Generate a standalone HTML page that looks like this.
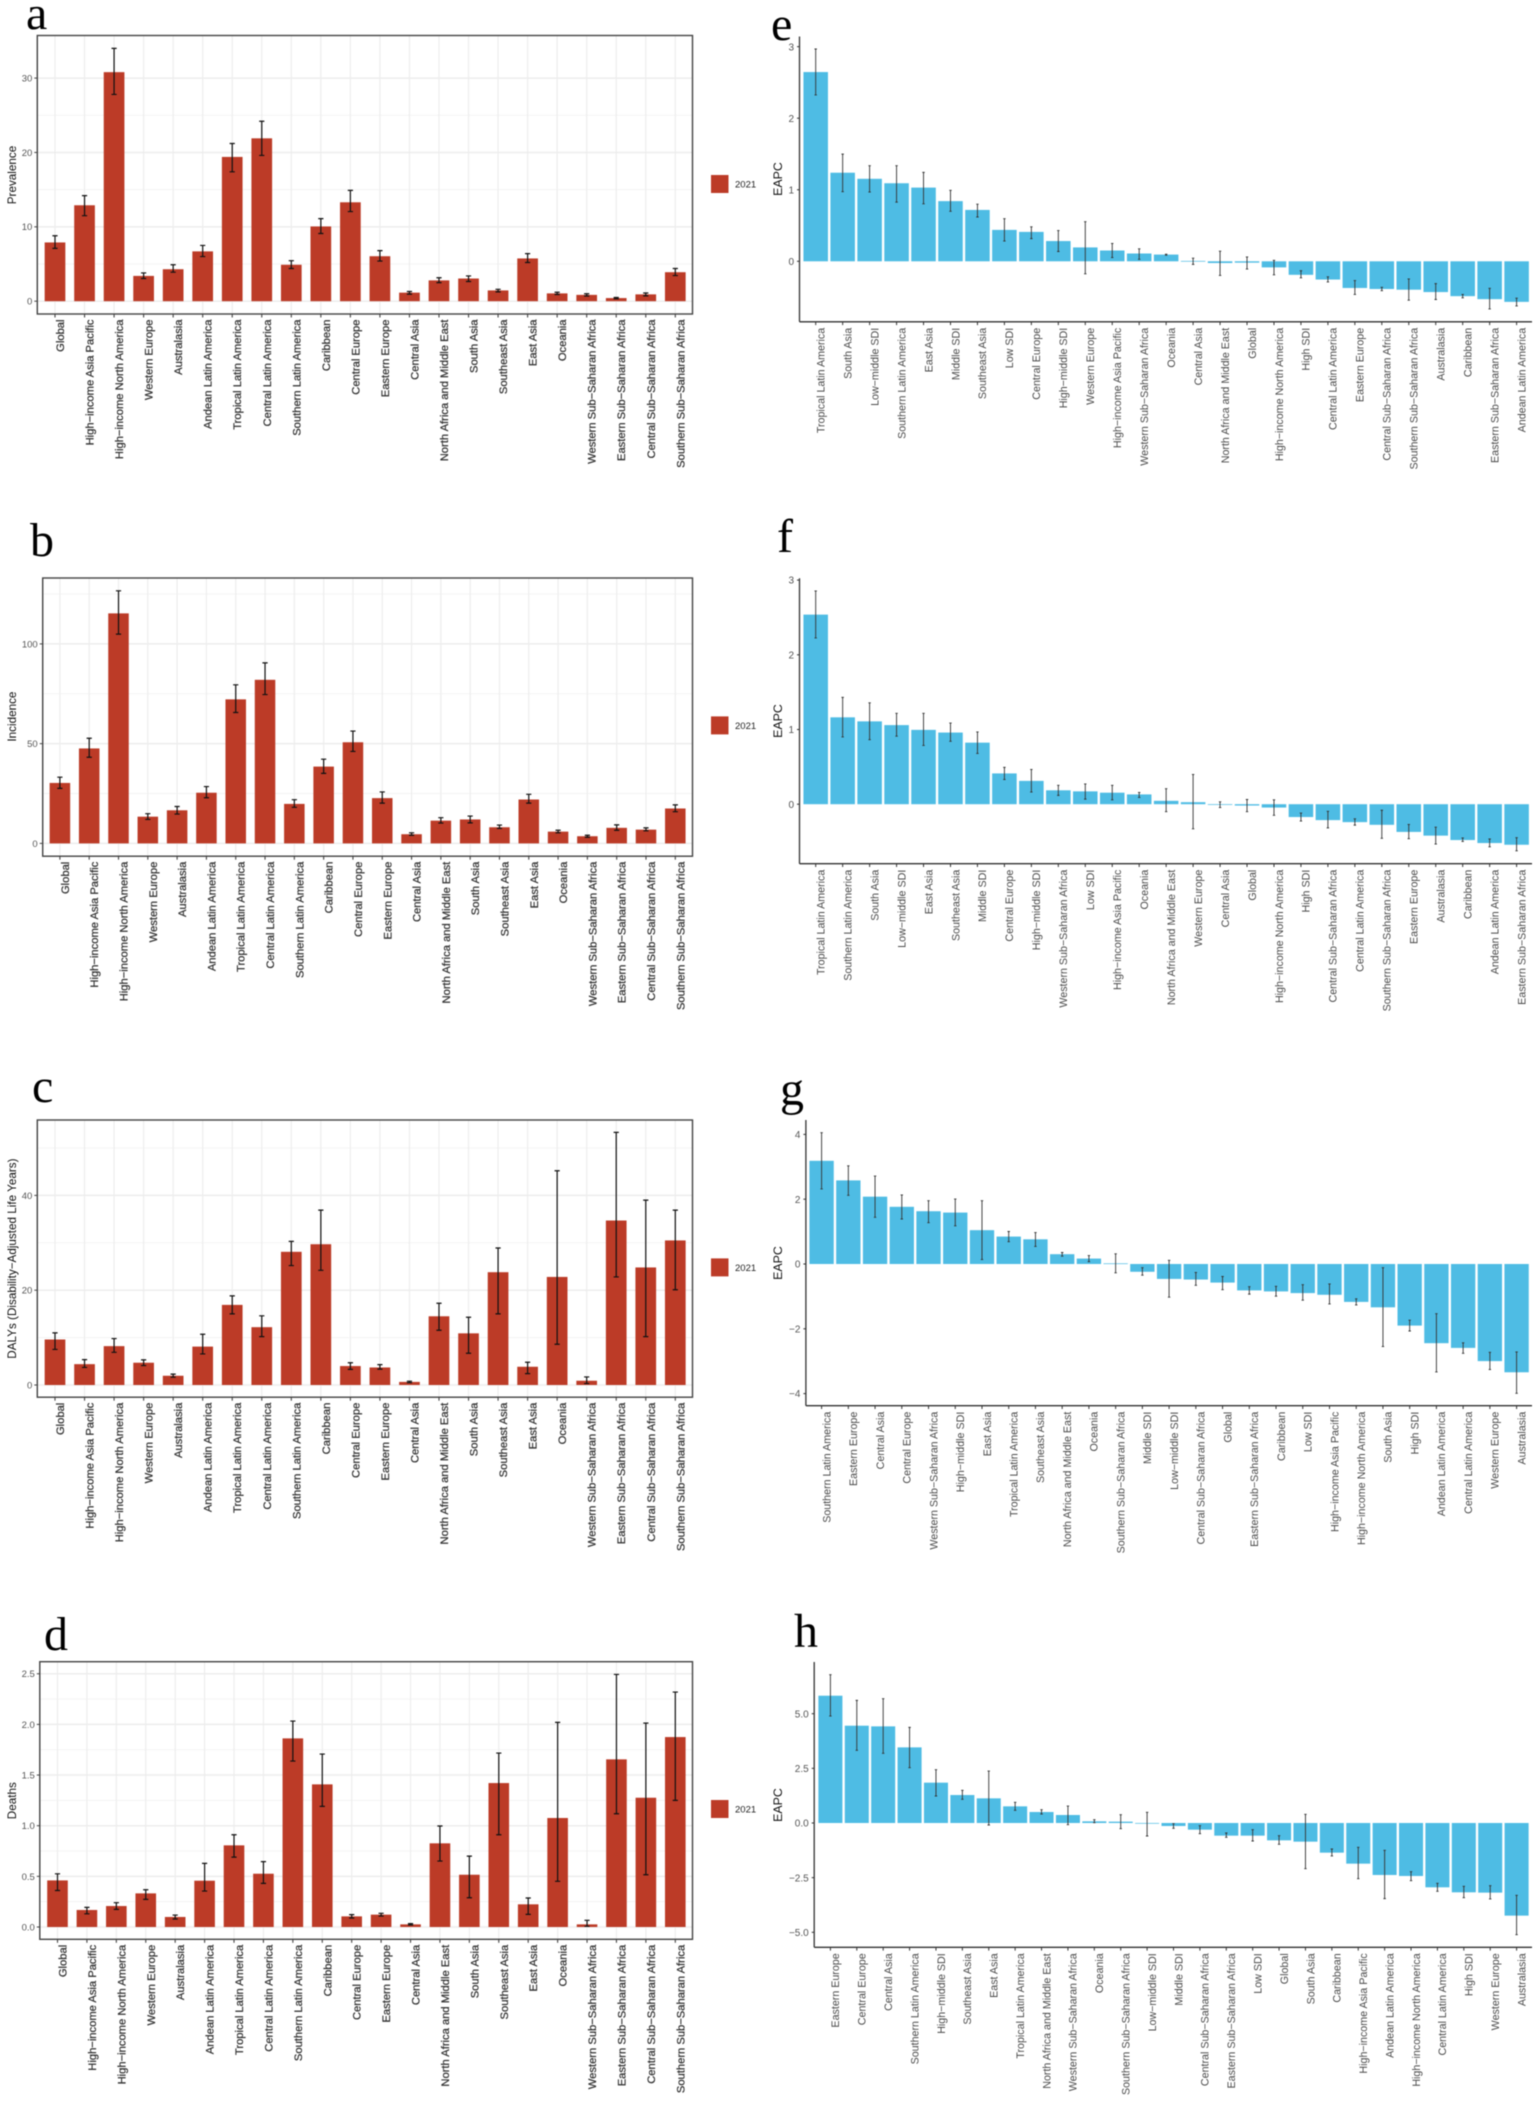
<!DOCTYPE html>
<html lang="en">
<head>
<meta charset="utf-8">
<title>Regional burden and EAPC bar charts</title>
<style>
html,body{margin:0;padding:0;background:#fff;}
#figure{display:block;filter:blur(0.45px);}
text{font-family:"Liberation Sans",Arial,sans-serif;}
.letter{font-family:"Liberation Serif","Times New Roman",serif;font-size:48px;fill:#000;}
</style>
</head>
<body>
<svg id="figure" xmlns="http://www.w3.org/2000/svg" width="1535" height="2101" viewBox="0 0 1535 2101"></svg>
<script>
const regionCategories = ["Global","High−income Asia Pacific","High−income North America","Western Europe","Australasia","Andean Latin America","Tropical Latin America","Central Latin America","Southern Latin America","Caribbean","Central Europe","Eastern Europe","Central Asia","North Africa and Middle East","South Asia","Southeast Asia","East Asia","Oceania","Western Sub−Saharan Africa","Eastern Sub−Saharan Africa","Central Sub−Saharan Africa","Southern Sub−Saharan Africa"];

const prevalenceValues = [7.9,12.9,30.8,3.4,4.3,6.7,19.4,21.9,4.9,10.05,13.3,6.05,1.15,2.8,3.05,1.45,5.75,1.05,0.85,0.42,0.92,3.9];
const prevalenceLower = [7.1,11.5,27.8,3.05,3.9,6.0,17.4,19.6,4.4,9.1,12.05,5.4,0.95,2.5,2.65,1.25,5.2,0.9,0.7,0.32,0.72,3.45];
const prevalenceUpper = [8.8,14.2,34,3.8,4.9,7.5,21.2,24.2,5.45,11.1,14.9,6.8,1.3,3.15,3.4,1.6,6.4,1.2,1,0.5,1.1,4.4];
const prevalenceTicks = [0,10,20,30];
const prevalenceMinorTicks = [5,15,25];

const incidenceValues = [30.3,47.6,115.3,13.4,16.6,25.4,72.2,82,19.8,38.5,50.7,22.7,4.6,11.4,12,8.1,22,5.9,3.6,7.8,6.9,17.5];
const incidenceLower = [27.6,43.2,104.9,12,14.7,22.9,65.6,74.6,18.1,35.1,46.1,20.2,4.1,10.2,10.3,7.5,20.2,5.3,3.1,6.6,6.3,15.9];
const incidenceUpper = [33.2,52.7,126.6,14.9,18.5,28.5,79.5,90.5,21.9,42.2,56.3,25.8,5.3,12.9,13.7,9.2,24.6,6.6,4.1,9.3,7.8,19.3];
const incidenceTicks = [0,50,100];
const incidenceMinorTicks = [25,75,125];

const dalysValues = [9.6,4.4,8.2,4.7,1.95,8.1,16.9,12.2,28.1,29.7,4,3.7,0.65,14.5,10.9,23.8,3.85,22.8,0.9,34.7,24.8,30.5];
const dalysLower = [7.5,3.7,6.9,4.1,1.65,6.55,15,10.2,25.2,24.2,3.3,3.35,0.5,11.55,6.7,15,2.4,8.6,0.3,22.8,10.2,20.1];
const dalysUpper = [11,5.35,9.8,5.3,2.3,10.7,18.8,14.6,30.3,36.9,4.7,4.3,0.8,17.25,14.3,28.9,4.8,45.2,1.7,53.3,39,36.9];
const dalysTicks = [0,20,40];
const dalysMinorTicks = [10,30,50];

const deathsValues = [0.46,0.168,0.207,0.332,0.099,0.457,0.806,0.526,1.862,1.408,0.105,0.122,0.026,0.826,0.516,1.421,0.224,1.076,0.026,1.655,1.276,1.875];
const deathsLower = [0.36,0.13,0.174,0.273,0.079,0.355,0.69,0.431,1.638,1.191,0.089,0.108,0.02,0.651,0.289,0.911,0.125,0.451,0.007,1.118,0.516,1.25];
const deathsUpper = [0.525,0.194,0.24,0.368,0.118,0.628,0.911,0.645,2.033,1.707,0.122,0.135,0.033,0.997,0.7,1.717,0.286,2.02,0.066,2.493,2.013,2.319];
const deathsTicks = [0,0.5,1,1.5,2,2.5];
const deathsTickLabels = ["0.0","0.5","1.0","1.5","2.0","2.5"];
const deathsMinorTicks = [0.25,0.75,1.25,1.75,2.25];

const eapcECategories = ["Tropical Latin America","South Asia","Low−middle SDI","Southern Latin America","East Asia","Middle SDI","Southeast Asia","Low SDI","Central Europe","High−middle SDI","Western Europe","High−income Asia Pacific","Western Sub−Saharan Africa","Oceania","Central Asia","North Africa and Middle East","Global","High−income North America","High SDI","Central Latin America","Eastern Europe","Central Sub−Saharan Africa","Southern Sub−Saharan Africa","Australasia","Caribbean","Eastern Sub−Saharan Africa","Andean Latin America"];
const eapcEValues = [2.645,1.238,1.153,1.091,1.03,0.841,0.718,0.439,0.411,0.283,0.194,0.151,0.109,0.094,0.005,-0.024,-0.019,-0.085,-0.189,-0.255,-0.373,-0.387,-0.397,-0.43,-0.487,-0.529,-0.567];
const eapcELower = [2.325,0.973,0.968,0.827,0.803,0.699,0.619,0.283,0.317,0.137,-0.175,0.052,0.028,0.085,-0.043,-0.198,-0.109,-0.189,-0.231,-0.288,-0.463,-0.411,-0.543,-0.534,-0.51,-0.666,-0.624];
const eapcEUpper = [2.967,1.498,1.337,1.337,1.243,0.992,0.798,0.595,0.482,0.43,0.553,0.25,0.175,0.099,0.043,0.142,0.061,0.014,-0.132,-0.217,-0.269,-0.364,-0.246,-0.312,-0.463,-0.378,-0.515];
const eapcETicks = [0,1,2,3];

const eapcFCategories = ["Tropical Latin America","Southern Latin America","South Asia","Low−middle SDI","East Asia","Southeast Asia","Middle SDI","Central Europe","High−middle SDI","Western Sub−Saharan Africa","Low SDI","High−income Asia Pacific","Oceania","North Africa and Middle East","Western Europe","Central Asia","Global","High−income North America","High SDI","Central Sub−Saharan Africa","Central Latin America","Southern Sub−Saharan Africa","Eastern Europe","Australasia","Caribbean","Andean Latin America","Eastern Sub−Saharan Africa"];
const eapcFValues = [2.538,1.163,1.109,1.059,0.995,0.959,0.824,0.412,0.312,0.186,0.172,0.154,0.131,0.045,0.027,-0.005,-0.018,-0.045,-0.172,-0.213,-0.24,-0.276,-0.371,-0.421,-0.48,-0.52,-0.543];
const eapcFLower = [2.226,0.9,0.864,0.91,0.787,0.842,0.679,0.33,0.163,0.118,0.068,0.059,0.09,-0.1,-0.33,-0.045,-0.1,-0.149,-0.226,-0.317,-0.28,-0.457,-0.462,-0.534,-0.498,-0.57,-0.624];
const eapcFUpper = [2.855,1.43,1.357,1.217,1.217,1.086,0.968,0.493,0.466,0.253,0.271,0.253,0.158,0.208,0.398,0.032,0.063,0.059,-0.118,-0.095,-0.195,-0.081,-0.271,-0.308,-0.452,-0.466,-0.448];
const eapcFTicks = [0,1,2,3];

const eapcGCategories = ["Southern Latin America","Eastern Europe","Central Asia","Central Europe","Western Sub−Saharan Africa","High−middle SDI","East Asia","Tropical Latin America","Southeast Asia","North Africa and Middle East","Oceania","Southern Sub−Saharan Africa","Middle SDI","Low−middle SDI","Central Sub−Saharan Africa","Global","Eastern Sub−Saharan Africa","Caribbean","Low SDI","High−income Asia Pacific","High−income North America","South Asia","High SDI","Andean Latin America","Central Latin America","Western Europe","Australasia"];
const eapcGValues = [3.185,2.58,2.078,1.765,1.629,1.587,1.044,0.846,0.762,0.303,0.167,0.02,-0.24,-0.46,-0.48,-0.574,-0.815,-0.846,-0.898,-0.95,-1.17,-1.337,-1.901,-2.444,-2.59,-2.997,-3.342];
const eapcGLower = [2.318,2.12,1.441,1.389,1.274,1.18,0.136,0.689,0.543,0.24,0.073,-0.272,-0.345,-1.023,-0.658,-0.794,-0.93,-0.992,-1.117,-1.232,-1.264,-2.548,-2.068,-3.332,-2.757,-3.258,-3.99];
const eapcGUpper = [4.052,3.029,2.715,2.131,1.953,2.005,1.953,1.003,0.971,0.355,0.261,0.313,-0.115,0.115,-0.261,-0.386,-0.7,-0.689,-0.637,-0.616,-1.076,-0.115,-1.734,-1.535,-2.433,-2.726,-2.715];
const eapcGTicks = [-4,-2,0,2,4];

const eapcHCategories = ["Eastern Europe","Central Europe","Central Asia","Southern Latin America","High−middle SDI","Southeast Asia","East Asia","Tropical Latin America","North Africa and Middle East","Western Sub−Saharan Africa","Oceania","Southern Sub−Saharan Africa","Low−middle SDI","Middle SDI","Central Sub−Saharan Africa","Eastern Sub−Saharan Africa","Low SDI","Global","South Asia","Caribbean","High−income Asia Pacific","Andean Latin America","High−income North America","Central Latin America","High SDI","Western Europe","Australasia"];
const eapcHValues = [5.823,4.451,4.421,3.46,1.845,1.28,1.128,0.762,0.503,0.366,0.076,0.061,-0.03,-0.137,-0.305,-0.579,-0.579,-0.793,-0.854,-1.357,-1.86,-2.378,-2.424,-2.942,-3.171,-3.186,-4.238];
const eapcHLower = [4.893,3.323,3.186,2.53,1.235,1.082,-0.091,0.579,0.412,-0.076,0.015,-0.259,-0.595,-0.244,-0.488,-0.655,-0.823,-0.976,-2.088,-1.509,-2.546,-3.46,-2.637,-3.125,-3.415,-3.476,-5.107];
const eapcHUpper = [6.784,5.61,5.686,4.375,2.439,1.494,2.378,0.945,0.61,0.777,0.152,0.381,0.488,-0.03,-0.122,-0.457,-0.305,-0.579,0.396,-1.189,-1.113,-1.25,-2.226,-2.759,-2.896,-2.866,-3.308];
const eapcHTicks = [-5,-2.5,0,2.5,5];
const eapcHTickLabels = ["−5.0","−2.5","0.0","2.5","5.0"];

const NS = "http://www.w3.org/2000/svg";
const svg = document.getElementById("figure");
function add(parent, tag, attrs, content) {
  const el = document.createElementNS(NS, tag);
  for (const k in attrs) el.setAttribute(k, attrs[k]);
  if (content !== undefined) el.textContent = content;
  parent.appendChild(el);
  return el;
}

function drawLeftPanel(cfg) {
  const g = add(svg, "g", {});
  
  
  const n = cfg.categories.length;
  const step = (cfg.lastX - cfg.firstX) / (n - 1);
  const xScale = i => cfg.firstX + i * step;
  const yScale = v => cfg.zeroY - v * cfg.pxPerUnit;

  cfg.minor.forEach(t => {
    const l = add(g, "line", {x1: cfg.left, x2: cfg.right, y1: yScale(t), y2: yScale(t), stroke: "#f4f4f4", "stroke-width": 1});
    
    
  });
  cfg.ticks.forEach(t => {
    const l = add(g, "line", {x1: cfg.left, x2: cfg.right, y1: yScale(t), y2: yScale(t), stroke: "#ededed", "stroke-width": 1.5});
    
    
  });
  cfg.categories.forEach((c, i) => {
    const l = add(g, "line", {x1: xScale(i), x2: xScale(i), y1: cfg.top, y2: cfg.bottom, stroke: "#ededed", "stroke-width": 1.2});
    
    
  });

  const bw = step * 0.7;
  cfg.values.forEach((v, i) => {
    const y0 = yScale(0), yv = yScale(v);
    const bar = add(g, "rect", {x: xScale(i) - bw / 2, y: Math.min(y0, yv), width: bw, height: Math.abs(y0 - yv), fill: "#BC3B27"});
    
    
  });
  cfg.values.forEach((v, i) => {
    const x = xScale(i), lo = yScale(cfg.lower[i]), hi = yScale(cfg.upper[i]);
    const e = add(g, "path", {d: `M${x},${lo}V${hi}M${x - 2.6},${lo}H${x + 2.6}M${x - 2.6},${hi}H${x + 2.6}`, stroke: "#111", "stroke-width": 1.2, fill: "none"});
    
    
  });

  const frame = add(g, "rect", {x: cfg.left, y: cfg.top, width: cfg.right - cfg.left, height: cfg.bottom - cfg.top, fill: "none", stroke: "#444", "stroke-width": 1.4});
  
  

  cfg.ticks.forEach((t, i) => {
    const mark = add(g, "line", {x1: cfg.left - 3, x2: cfg.left, y1: yScale(t), y2: yScale(t), stroke: "#444", "stroke-width": 1});
    
    
    const lab = add(g, "text", {x: cfg.left - 5, y: yScale(t) + 3.4, "text-anchor": "end", "font-size": 9.5, fill: "#555"}, cfg.tickLabels ? cfg.tickLabels[i] : String(t));
    
    
  });
  cfg.categories.forEach((c, i) => {
    const mark = add(g, "line", {x1: xScale(i), x2: xScale(i), y1: cfg.bottom, y2: cfg.bottom + 3.5, stroke: "#444", "stroke-width": 1.1});
    
    
    const tx = xScale(i) + 9, ty = cfg.bottom + 5.5;
    const lab = add(g, "text", {transform: `translate(${tx},${ty}) rotate(-90)`, "text-anchor": "end", "font-size": 11.2, fill: "#333", stroke: "#333", "stroke-width": 0.25}, c);
    
    
  });

  const title = add(g, "text", {transform: `translate(16,${cfg.titleY}) rotate(-90)`, "text-anchor": "middle", "font-size": 11.7, fill: "#111"}, cfg.title);
  
  

  const swatch = add(g, "rect", {x: 711, y: cfg.legendY - 9, width: 17.5, height: 18, fill: "#BC3B27"});
  
  
  const legendLabel = add(g, "text", {x: 735, y: cfg.legendY + 3.5, "font-size": 9.5, fill: "#222"}, "2021");
  
  

  const letter = add(g, "text", {x: cfg.letterX, y: cfg.letterY, class: "letter"}, cfg.key);
  
  
}

function drawRightPanel(cfg) {
  const g = add(svg, "g", {});
  
  
  const n = cfg.categories.length;
  const step = (cfg.lastX - cfg.firstX) / (n - 1);
  const xScale = i => cfg.firstX + i * step;
  const yScale = v => cfg.zeroY - v * cfg.pxPerUnit;
  const bw = step * 0.91;

  cfg.values.forEach((v, i) => {
    const y0 = yScale(0), yv = yScale(v);
    const h = Math.max(Math.abs(y0 - yv), 0.7);
    const bar = add(g, "rect", {x: xScale(i) - bw / 2, y: Math.min(y0, yv), width: bw, height: h, fill: "#4EBCE4"});
    
    
  });
  cfg.values.forEach((v, i) => {
    const x = xScale(i), lo = yScale(cfg.lower[i]), hi = yScale(cfg.upper[i]);
    const e = add(g, "path", {d: `M${x},${lo}V${hi}M${x - 1.2},${lo}H${x + 1.2}M${x - 1.2},${hi}H${x + 1.2}`, stroke: "#333", "stroke-width": 0.9, fill: "none"});
    
    
  });

  const yAxis = add(g, "line", {x1: cfg.left, x2: cfg.left, y1: cfg.top, y2: cfg.bottom, stroke: "#333", "stroke-width": 1.3});
  
  
  const xAxis = add(g, "line", {x1: cfg.left, x2: cfg.right, y1: cfg.bottom, y2: cfg.bottom, stroke: "#333", "stroke-width": 1.3});
  
  

  cfg.ticks.forEach((t, i) => {
    const mark = add(g, "line", {x1: cfg.left - 2.5, x2: cfg.left, y1: yScale(t), y2: yScale(t), stroke: "#333", "stroke-width": 1});
    
    
    const label = cfg.tickLabels ? cfg.tickLabels[i] : String(t).replace("-", "−");
    const lab = add(g, "text", {x: cfg.left - 5.5, y: yScale(t) + 3.6, "text-anchor": "end", "font-size": 10, fill: "#555"}, label);
    
    
  });
  cfg.categories.forEach((c, i) => {
    const mark = add(g, "line", {x1: xScale(i), x2: xScale(i), y1: cfg.bottom, y2: cfg.bottom + 3.3, stroke: "#333", "stroke-width": 1});
    
    
    const tx = xScale(i) + 8.8, ty = cfg.bottom + 6;
    const lab = add(g, "text", {transform: `translate(${tx},${ty}) rotate(-90)`, "text-anchor": "end", "font-size": 10.7, fill: "#4a4a4a"}, c);
    
    
  });

  const title = add(g, "text", {transform: `translate(782,${cfg.titleY}) rotate(-90)`, "text-anchor": "middle", "font-size": 12.4, fill: "#111"}, "EAPC");
  
  

  const letter = add(g, "text", {x: cfg.letterX, y: cfg.letterY, class: "letter"}, cfg.key);
  
  
}

drawLeftPanel({key: "a", title: "Prevalence", categories: regionCategories, values: prevalenceValues, lower: prevalenceLower, upper: prevalenceUpper, ticks: prevalenceTicks, minor: prevalenceMinorTicks, left: 37.3, right: 692.5, top: 35.5, bottom: 314, firstX: 55, lastX: 675.3, zeroY: 301.2, pxPerUnit: 7.437, titleY: 175, legendY: 184, letterX: 26, letterY: 29});
drawLeftPanel({key: "b", title: "Incidence", categories: regionCategories, values: incidenceValues, lower: incidenceLower, upper: incidenceUpper, ticks: incidenceTicks, minor: incidenceMinorTicks, left: 42.7, right: 692.5, top: 578, bottom: 856.2, firstX: 59.9, lastX: 675.3, zeroY: 843.4, pxPerUnit: 1.995, titleY: 716.6, legendY: 725.4, letterX: 30, letterY: 556});
drawLeftPanel({key: "c", title: "DALYs (Disability−Adjusted Life Years)", categories: regionCategories, values: dalysValues, lower: dalysLower, upper: dalysUpper, ticks: dalysTicks, minor: dalysMinorTicks, left: 37.3, right: 692.5, top: 1120, bottom: 1397.2, firstX: 55, lastX: 675.3, zeroY: 1385, pxPerUnit: 4.74, titleY: 1258.6, legendY: 1267.4, letterX: 32, letterY: 1102});
drawLeftPanel({key: "d", title: "Deaths", categories: regionCategories, values: deathsValues, lower: deathsLower, upper: deathsUpper, ticks: deathsTicks, tickLabels: deathsTickLabels, minor: deathsMinorTicks, left: 39.8, right: 692.5, top: 1661.7, bottom: 1939.3, firstX: 57.5, lastX: 675.3, zeroY: 1927, pxPerUnit: 101.3, titleY: 1800.7, legendY: 1809, letterX: 44, letterY: 1650});

drawRightPanel({key: "e", categories: eapcECategories, values: eapcEValues, lower: eapcELower, upper: eapcEUpper, ticks: eapcETicks, left: 799.5, right: 1532, top: 36.5, bottom: 321.8, firstX: 815.7, lastX: 1516.6, zeroY: 261.3, pxPerUnit: 71.55, titleY: 179, letterX: 771, letterY: 40});
drawRightPanel({key: "f", categories: eapcFCategories, values: eapcFValues, lower: eapcFLower, upper: eapcFUpper, ticks: eapcFTicks, left: 799.5, right: 1532, top: 578.3, bottom: 863.7, firstX: 815.7, lastX: 1516.6, zeroY: 804.2, pxPerUnit: 74.7, titleY: 721, letterX: 777, letterY: 552});
drawRightPanel({key: "g", categories: eapcGCategories, values: eapcGValues, lower: eapcGLower, upper: eapcGUpper, ticks: eapcGTicks, left: 805.9, right: 1532, top: 1120, bottom: 1405.7, firstX: 821.6, lastX: 1516.6, zeroY: 1264, pxPerUnit: 32.4, titleY: 1263, letterX: 780, letterY: 1105});
drawRightPanel({key: "h", categories: eapcHCategories, values: eapcHValues, lower: eapcHLower, upper: eapcHUpper, ticks: eapcHTicks, tickLabels: eapcHTickLabels, left: 814.2, right: 1532, top: 1662, bottom: 1947.3, firstX: 830.4, lastX: 1516.6, zeroY: 1823, pxPerUnit: 21.86, titleY: 1805, letterX: 794, letterY: 1647});
</script>
</body>
</html>
